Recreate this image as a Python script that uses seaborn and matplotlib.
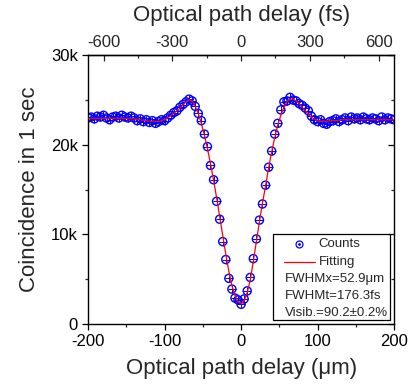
import numpy as np
import matplotlib
matplotlib.use("Agg")
import matplotlib.pyplot as plt
import seaborn as sns
from matplotlib.patches import Rectangle
from matplotlib.ticker import MultipleLocator, FixedLocator, FuncFormatter

# =========================
# DATA
# =========================
delay_um = np.arange(-200, 201, 4)

counts = [
    23000, 23100, 22900, 23200, 23100, 23300, 23000, 22800, 23100, 23200,
    23000, 23300, 23100, 23000, 23200, 23000, 22700, 22900, 22600, 22800,
    22500, 22700, 22400, 22600, 22800, 22700, 23000, 23300, 23600, 23800,
    24200, 24500, 24800, 25100, 24900, 24300, 23500, 22700, 21200, 19800,
    17700, 16100, 13700, 11700, 9200, 7200, 5100, 3900, 2900, 2700,
    2200,
    2800, 3700, 5200, 7300, 9500, 11600, 13400, 15500, 17500, 19300,
    21200, 22400, 23900, 24800, 24900, 25300, 25000, 24900, 24600, 24400,
    24100, 23800, 23200, 22800, 22600, 22800, 22400, 22300, 22600, 22700,
    22900, 22600, 22800, 23000, 22700, 23100, 22900, 23000, 22800, 23100,
    22900, 22800, 23000, 22900, 22700, 23100, 22800, 23000, 22900, 22800,
]

fitting = [
    22950, 22950, 22950, 22950, 22950, 22950, 22950, 22950, 22950, 22950,
    22950, 22950, 22950, 22950, 22900, 22900, 22850, 22800, 22750, 22700,
    22650, 22600, 22600, 22600, 22700, 22800, 23000, 23250, 23500, 23800,
    24100, 24450, 24800, 25050, 24900, 24300, 23500, 22400, 21100, 19600,
    17900, 16100, 14100, 12000, 9900, 7800, 5900, 4300, 3200, 2500,
    2250,
    2600, 3500, 4900, 7000, 9200, 11400, 13500, 15400, 17400, 19200,
    20800, 22200, 23300, 24200, 24800, 25100, 25100, 24900, 24600, 24200,
    23800, 23400, 23100, 22850, 22700, 22650, 22650, 22650, 22650, 22700,
    22700, 22750, 22800, 22800, 22800, 22800, 22800, 22800, 22800, 22800,
    22800, 22800, 22800, 22800, 22800, 22800, 22800, 22800, 22800, 22800,
]

fs_ticks = [-600, -300, 0, 300, 600]
info_lines = ["FWHMx=52.9\u03bcm", "FWHMt=176.3fs", "Visib.=90.2\u00b10.2%"]

C_UM_PER_FS = 0.29979  # speed of light, um per fs

# =========================
# STYLE
# =========================
sns.set_style("ticks")
plt.rcParams["font.family"] = ["Liberation Sans", "DejaVu Sans"]
plt.rcParams["axes.unicode_minus"] = False

fig = plt.figure(figsize=(4.16, 3.89), dpi=100)
ax = fig.add_axes([0.212, 0.167, 0.735, 0.691])

sns.scatterplot(x=delay_um, y=counts, marker="o", s=34, facecolors="none",
                edgecolor="blue", linewidth=1.0, ax=ax, zorder=2)
sns.scatterplot(x=delay_um, y=counts, marker="+", s=30, color="blue",
                linewidth=0.7, ax=ax, zorder=2)
sns.lineplot(x=delay_um, y=fitting, color="red", linewidth=0.9, ax=ax,
             zorder=3)

ax.set_xlim(-200, 200)
ax.set_ylim(0, 30000)

ax.xaxis.set_major_locator(MultipleLocator(100))
ax.xaxis.set_minor_locator(MultipleLocator(50))
ax.yaxis.set_major_locator(MultipleLocator(10000))
ax.yaxis.set_minor_locator(MultipleLocator(5000))
ax.yaxis.set_major_formatter(
    FuncFormatter(lambda v, p: "0" if v == 0 else f"{int(v / 1000)}k"))

for s in ax.spines.values():
    s.set_color("black")
    s.set_linewidth(1.0)
    s.set_visible(True)

ax.tick_params(axis="both", which="major", direction="out", length=4,
               width=0.9, labelsize=12, colors="black")
ax.tick_params(axis="both", which="minor", direction="out", length=2.4,
               width=0.9)
ax.tick_params(axis="y", which="both", right=True)
# right side ticks point inward
for t in ax.yaxis.get_major_ticks() + ax.yaxis.get_minor_ticks():
    t.tick2line.set_marker(matplotlib.lines.TICKLEFT)

ax.set_xlabel("Optical path delay (\u03bcm)", fontsize=16, labelpad=6)
ax.set_ylabel("Coincidence in 1 sec", fontsize=16, labelpad=8)

# top axis in fs
top = ax.secondary_xaxis("top", functions=(lambda x: x / C_UM_PER_FS,
                                           lambda t: t * C_UM_PER_FS))
top.xaxis.set_major_locator(FixedLocator(fs_ticks))
top.xaxis.set_minor_locator(FixedLocator([-450, -150, 150, 450]))
top.tick_params(axis="x", which="major", direction="in", length=4,
                width=0.9, labelsize=12)
top.tick_params(axis="x", which="minor", direction="in", length=2.4,
                width=0.9)
top.spines["top"].set_linewidth(1.0)
top.set_xlabel("Optical path delay (fs)", fontsize=16, labelpad=10)

# =========================
# LEGEND BOX
# =========================
ax.add_patch(Rectangle((0.603, 0.015), 0.384, 0.32, transform=ax.transAxes,
                       fill=False, edgecolor="black", linewidth=0.9,
                       zorder=4))
ax.plot([0.689], [0.298], transform=ax.transAxes, marker="o", ms=5,
        mfc="none", mec="blue", mew=0.9, ls="none", zorder=5)
ax.plot([0.689], [0.298], transform=ax.transAxes, marker=".", ms=2,
        color="blue", ls="none", zorder=5)
ax.text(0.754, 0.298, "Counts", transform=ax.transAxes, fontsize=9.5,
        va="center", ha="left")
ax.plot([0.640, 0.741], [0.232, 0.232], transform=ax.transAxes,
        color="red", lw=0.9, zorder=5)
ax.text(0.754, 0.232, "Fitting", transform=ax.transAxes, fontsize=9.5,
        va="center", ha="left")
for line, ypos in zip(info_lines, [0.1675, 0.104, 0.042]):
    ax.text(0.643, ypos, line, transform=ax.transAxes, fontsize=9.5,
            va="center", ha="left")

ax.set_xlim(-200, 200)
ax.set_ylim(0, 30000)

fig.savefig("out.png", dpi=100)
